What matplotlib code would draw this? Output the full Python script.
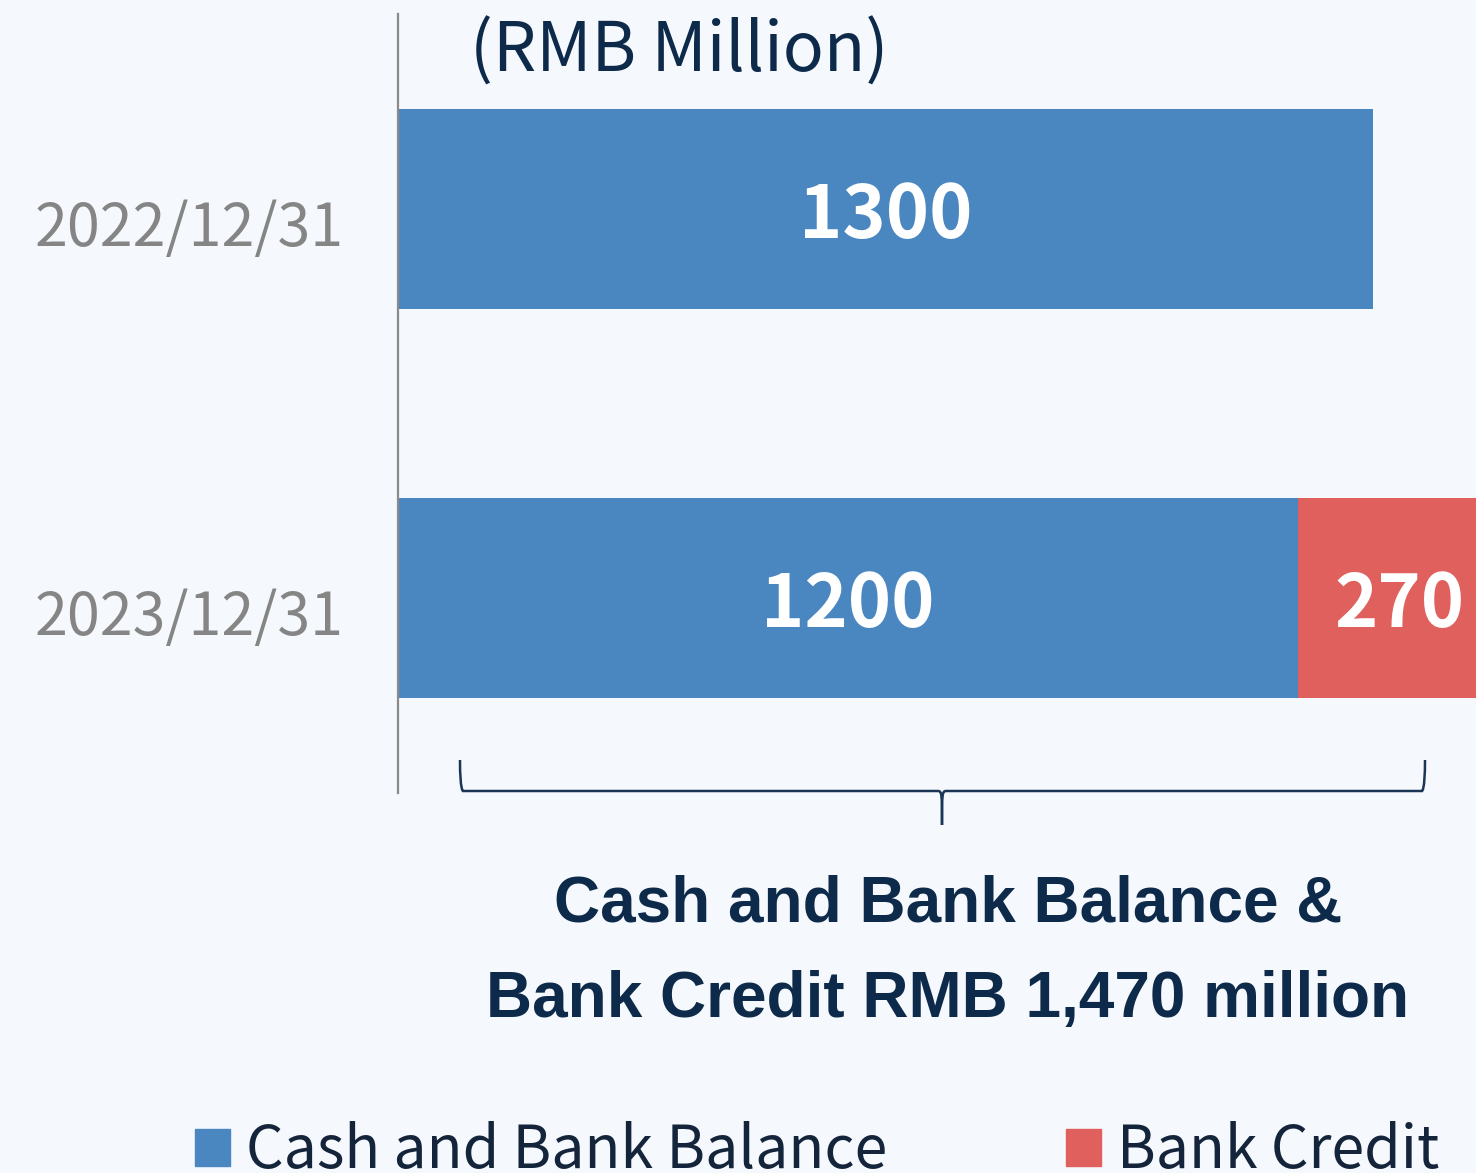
import matplotlib.pyplot as plt
from matplotlib.path import Path
from matplotlib.patches import PathPatch, Patch

dates = ['2022/12/31', '2023/12/31']
cash_balance = [1300, 1200]
bank_credit = [0, 270]
series_names = ['Cash and Bank Balance', 'Bank Credit']
unit_label = '(RMB Million)'

bg = '#F5F8FC'
blue = '#4A87C0'
red = '#E0605E'
navy = '#0D2A4A'
cjk = ['Noto Sans CJK SC', 'DejaVu Sans']

W, H = 1476, 1173
fig = plt.figure(figsize=(W / 100, H / 100), dpi=100, facecolor=bg)
ax = fig.add_axes([398 / W, 1 - 793 / H, 1 - 398 / W, (793 - 14) / H])
ax.set_facecolor(bg)

ypos = list(range(len(dates)))
bars1 = ax.barh(ypos, cash_balance, height=0.513, color=blue, label=series_names[0])
bars2 = ax.barh(ypos, bank_credit, left=cash_balance, height=0.513, color=red, label=series_names[1])
ax.set_ylim(1.5, -0.5)
ax.set_xlim(0, 1437)

for sp in ['top', 'right', 'bottom']:
    ax.spines[sp].set_visible(False)
ax.spines['left'].set_color('#8A8A8A')
ax.spines['left'].set_linewidth(1.6)
ax.set_xticks([])
ax.set_yticks([])

# category labels
for i, d in enumerate(dates):
    ax.annotate(d, (0, i), xytext=(-54 * 0.72, -37 * 0.72), textcoords='offset points',
                ha='right', va='baseline', fontsize=42.5, color='#858585', family=cjk)

# values inside bars
for bars in [bars1, bars2]:
    for rect in bars:
        w = rect.get_width()
        if w <= 0:
            continue
        cx = rect.get_x() + w / 2
        cy = rect.get_y() + rect.get_height() / 2
        ax.annotate(f'{int(w)}', (cx, cy), xytext=(0, -29 * 0.72), textcoords='offset points',
                    ha='center', va='baseline', fontsize=53, fontweight='bold',
                    color='white', family=cjk, annotation_clip=False)

fig.text(470 / W, 1 - 72 / H, unit_label, ha='left', va='baseline', fontsize=49,
         color=navy, family=cjk)

# brace under the bars
def px(x, y):
    return (x / W, 1 - y / H)

x0, x1, xm = 460, 1425, 942
yt, yl, yb = 760, 791, 825
verts = [px(x0, yt), px(x0, yl), px(x0 + 3, yl), px(x0 + 3, yl),
         px(xm - 4, yl), px(xm, yl), px(xm, yl + 4), px(xm, yb)]
codes = [Path.MOVETO, Path.CURVE4, Path.CURVE4, Path.CURVE4,
         Path.LINETO, Path.CURVE4, Path.CURVE4, Path.CURVE4]
verts2 = [px(x1, yt), px(x1, yl), px(x1 - 3, yl), px(x1 - 3, yl),
          px(xm + 4, yl), px(xm, yl), px(xm, yl + 4), px(xm, yb)]
for v in [verts, verts2]:
    fig.add_artist(PathPatch(Path(v, codes), transform=fig.transFigure,
                             facecolor='none', edgecolor='#1B3557', lw=1.8))

total = cash_balance[-1] + bank_credit[-1]
fig.text(948 / W, 1 - 922 / H, 'Cash and Bank Balance &', ha='center', va='baseline',
         fontsize=46, fontweight='bold', color=navy, family='Liberation Sans')
fig.text(948 / W, 1 - 1017 / H, f'Bank Credit RMB {total:,} million', ha='center', va='baseline',
         fontsize=46, fontweight='bold', color=navy, family='Liberation Sans')

handles = [Patch(color=blue, label=series_names[0]), Patch(color=red, label=series_names[1])]
fig.legend(handles=handles, loc='upper left', bbox_to_anchor=(195 / W, 1 - 1121 / H),
           ncol=2, frameon=False, prop={'family': cjk, 'size': 42.5},
           handlelength=0.59, handleheight=0.59, handletextpad=0.28, columnspacing=3.02,
           borderaxespad=0, borderpad=0, labelcolor='#14243A')

fig.savefig('out.png', dpi=100, facecolor=bg)
